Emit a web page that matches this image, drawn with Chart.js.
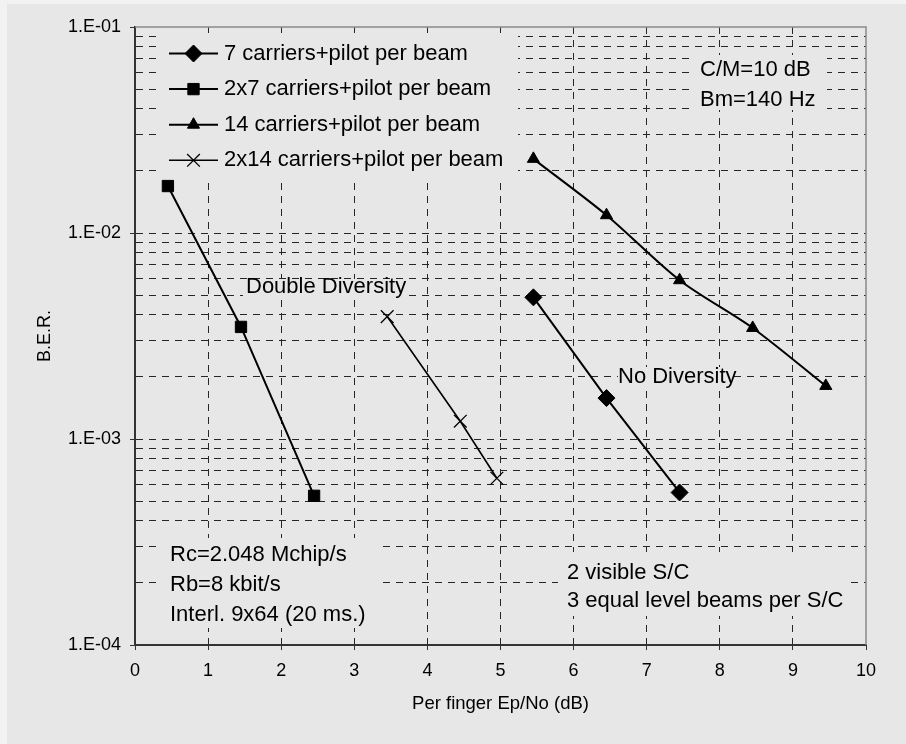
<!DOCTYPE html>
<html>
<head>
  <title>B.E.R. vs per finger Ep/No</title>
  <script src="https://cdn.jsdelivr.net/npm/chart.js@4.4.0/dist/chart.umd.min.js"></script>
  <style>
html, body {
  margin: 0;
  padding: 0;
  background: #f2f2f2;
}

.chart-container {
  width: 906px;
  height: 744px;
}
  </style>
</head>
<body>
  <div class="chart-container">
    <canvas id="berChart" width="906" height="744"></canvas>
  </div>
  <script type="text/javascript">
    // values
    var seriesLabels = [
      '7 carriers+pilot per beam',
      '2x7 carriers+pilot per beam',
      '14 carriers+pilot per beam',
      '2x14 carriers+pilot per beam'
    ];
    var epNo7 = [5.45, 6.45, 7.45];
    var ber7 = [4.87e-3, 1.58e-3, 5.5e-4];
    var epNo2x7 = [0.45, 1.45, 2.45];
    var ber2x7 = [1.69e-2, 3.5e-3, 5.3e-4];
    var epNo14 = [5.45, 6.45, 7.45, 8.45, 9.45];
    var ber14 = [2.29e-2, 1.22e-2, 5.9e-3, 3.46e-3, 1.81e-3];
    var epNo2x14 = [3.45, 4.45, 4.95];
    var ber2x14 = [3.93e-3, 1.22e-3, 6.45e-4];

    var yDecades = [1e-4, 1e-3, 1e-2, 1e-1];
    var yTickLabels = ['1.E-04', '1.E-03', '1.E-02', '1.E-01'];
    var ySignificands = [1, 2, 3, 4, 5, 6, 7, 8, 9];

    var noteTopRight = ['C/M=10 dB', 'Bm=140 Hz'];
    var noteBottomLeft = ['Rc=2.048 Mchip/s', 'Rb=8 kbit/s', 'Interl. 9x64 (20 ms.)'];
    var noteBottomRight = ['2 visible S/C', '3 equal level beams per S/C'];
    var noteDouble = 'Double Diversity';
    var noteNone = 'No Diversity';

    var FONT = '"Liberation Sans", Arial, sans-serif';
    var BG = '#e7e7e7';
    var GRID = '#262626';

    function toPoints(xs, ys) {
      return xs.map(function(x, i) { return {x: x, y: ys[i]}; });
    }

    function decadeIndex(v) {
      for (var i = 0; i < yDecades.length; i++) {
        if (Math.abs(v / yDecades[i] - 1) < 1e-6) return i;
      }
      return -1;
    }

    function makeSet(label, data, style, radius, lineWidth, tension) {
      return {
        label: label,
        data: data,
        showLine: true,
        borderColor: '#000',
        backgroundColor: '#000',
        borderWidth: lineWidth,
        pointStyle: style,
        pointRadius: radius,
        pointBorderWidth: style === 'crossRot' ? 1.3 : 1,
        pointBorderColor: '#000',
        pointBackgroundColor: '#000',
        tension: tension
      };
    }

    // text box with the plot colour behind it, like the original's labels
    function textBox(ctx, box, lines, x, y0, step) {
      ctx.fillStyle = BG;
      ctx.fillRect(box[0], box[1], box[2], box[3]);
      ctx.fillStyle = '#000';
      ctx.font = '22px ' + FONT;
      ctx.textAlign = 'left';
      ctx.textBaseline = 'middle';
      lines.forEach(function(t, i) { ctx.fillText(t, x, y0 + i * step); });
    }

    var berDecor = {
      id: 'berDecor',
      beforeDraw: function(chart) {
        var ctx = chart.ctx;
        ctx.save();
        ctx.fillStyle = '#f2f2f2';
        ctx.fillRect(0, 0, chart.width, chart.height);
        ctx.fillStyle = BG;
        ctx.fillRect(7, 4, chart.width - 7, chart.height - 4);
        ctx.restore();
      },
      beforeDatasetsDraw: function(chart) {
        var ctx = chart.ctx;
        var a = chart.chartArea;
        ctx.save();

        // plot frame, top and right
        ctx.strokeStyle = '#8a8a8a';
        ctx.lineWidth = 1.5;
        ctx.beginPath();
        ctx.moveTo(a.left, a.top);
        ctx.lineTo(a.right, a.top);
        ctx.lineTo(a.right, a.bottom);
        ctx.stroke();

        textBox(ctx, [690, 55, 137, 55], noteTopRight, 700, 70, 30);
        textBox(ctx, [157, 538, 222, 90], noteBottomLeft, 170, 555, 30);
        textBox(ctx, [558, 552, 290, 64], noteBottomRight, 567, 573, 28);
        textBox(ctx, [243, 279, 160, 19], [noteDouble], 246, 287, 0);
        textBox(ctx, [618, 367, 116, 20], [noteNone], 618, 377, 0);

        // legend
        ctx.fillStyle = BG;
        ctx.fillRect(157, 33, 361, 146);
        chart.data.datasets.forEach(function(ds, i) {
          var y = 53.5 + i * 35.6;
          ctx.strokeStyle = '#000';
          ctx.lineWidth = ds.borderWidth;
          ctx.beginPath();
          ctx.moveTo(169, y);
          ctx.lineTo(218, y);
          ctx.stroke();
          ctx.fillStyle = '#000';
          ctx.lineWidth = ds.pointBorderWidth;
          if (Chart.helpers && Chart.helpers.drawPoint) {
            Chart.helpers.drawPoint(ctx, {
              pointStyle: ds.pointStyle,
              radius: ds.pointRadius,
              rotation: 0,
              borderWidth: ds.pointBorderWidth
            }, 193.5, y);
          }
          ctx.fillStyle = '#000';
          ctx.font = '22px ' + FONT;
          ctx.textAlign = 'left';
          ctx.textBaseline = 'middle';
          ctx.fillText(ds.label, 224, y);
        });
        ctx.restore();
      }
    };

    var ctx = document.getElementById('berChart').getContext('2d');
    var berChart = new Chart(ctx, {
      type: 'scatter',
      data: {
        datasets: [
          makeSet(seriesLabels[0], toPoints(epNo7, ber7), 'rectRot', 8.5, 2, 0),
          makeSet(seriesLabels[1], toPoints(epNo2x7, ber2x7), 'rect', 8, 2, 0),
          makeSet(seriesLabels[2], toPoints(epNo14, ber14), 'triangle', 7, 2, 0.3),
          makeSet(seriesLabels[3], toPoints(epNo2x14, ber2x14), 'crossRot', 9, 1.6, 0)
        ]
      },
      options: {
        responsive: false,
        animation: false,
        devicePixelRatio: 1,
        layout: {padding: {top: 27, right: 40, left: 0, bottom: 0}},
        plugins: {
          legend: {display: false},
          tooltip: {enabled: false}
        },
        scales: {
          x: {
            type: 'linear',
            min: 0,
            max: 10,
            afterFit: function(s) { s.height = 99; },
            ticks: {stepSize: 1, maxRotation: 0, padding: 10, color: '#000', font: {family: FONT, size: 18}},
            grid: {
              color: function(c) { return (c.tick.value > 0 && c.tick.value < 10) ? GRID : 'rgba(0,0,0,0)'; },
              tickColor: '#333',
              tickLength: 5
            },
            border: {color: '#333', width: 2, dash: [7, 6]},
            title: {
              display: true,
              text: 'Per finger Ep/No (dB)',
              color: '#000',
              font: {family: FONT, size: 18.5},
              padding: {top: 0, bottom: 29}
            }
          },
          y: {
            type: 'logarithmic',
            min: 1e-4,
            max: 1e-1,
            afterFit: function(s) { s.width = 135; },
            afterBuildTicks: function(s) {
              var t = [];
              yDecades.forEach(function(d, i) {
                ySignificands.forEach(function(k) {
                  if (i < yDecades.length - 1 || k === 1) t.push({value: d * k});
                });
              });
              s.ticks = t;
            },
            ticks: {
              autoSkip: false,
              padding: 9,
              color: '#000',
              font: {family: FONT, size: 18},
              callback: function(v) {
                var i = decadeIndex(v);
                return i >= 0 ? yTickLabels[i] : '';
              }
            },
            grid: {
              color: function(c) {
                var i = decadeIndex(c.tick.value);
                return (i === 0 || i === yDecades.length - 1) ? 'rgba(0,0,0,0)' : GRID;
              },
              tickColor: function(c) { return decadeIndex(c.tick.value) >= 0 ? '#333' : 'rgba(0,0,0,0)'; },
              tickLength: 5
            },
            border: {color: '#333', width: 2, dash: [7, 6]},
            title: {
              display: true,
              text: 'B.E.R.',
              color: '#000',
              font: {family: FONT, size: 18},
              padding: {top: 34, bottom: 0}
            }
          }
        }
      },
      plugins: [berDecor]
    });
  </script>
</body>
</html>
